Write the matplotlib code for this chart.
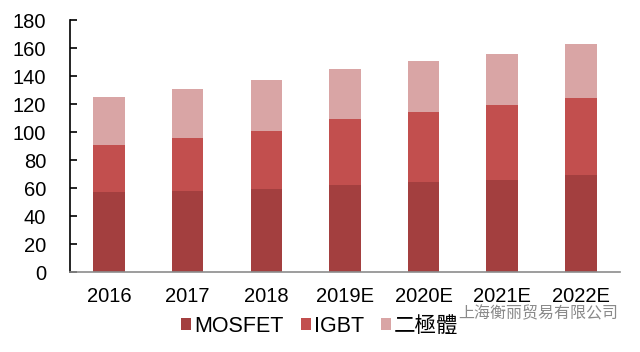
import matplotlib

matplotlib.use("Agg")
import matplotlib.pyplot as plt
import numpy as np
from matplotlib.patches import Patch

plt.rcParams["font.family"] = ["Liberation Sans", "Noto Sans CJK SC", "DejaVu Sans"]

years = ["2016", "2017", "2018", "2019E", "2020E", "2021E", "2022E"]
mosfet = [57, 58, 59, 62, 64, 66, 69]
igbt = [34, 38, 42, 47, 50, 53, 55]
diode = [34, 35, 36, 36, 37, 37, 39]
series_names = ["MOSFET", "IGBT", "二極體"]
colours = ["#A33F3F", "#C24F4E", "#D9A5A5"]


def main() -> None:
    fig = plt.figure(figsize=(6.4, 3.52), dpi=100)
    ax = fig.add_axes([0.109, 0.227, 0.86, 0.716])

    x = np.arange(len(years))
    bottom = np.zeros(len(years))
    for values, colour in zip([mosfet, igbt, diode], colours):
        ax.bar(x, values, width=0.4, bottom=bottom, color=colour, zorder=2)
        bottom += np.array(values)

    ax.set_xlim(-0.5, len(years) - 0.5)
    ax.set_ylim(0, 180)
    ax.set_yticks(range(0, 181, 20))
    ax.set_xticks(x)
    ax.set_xticklabels(years)

    for side in ("top", "right"):
        ax.spines[side].set_visible(False)
    ax.spines["left"].set_color("black")
    ax.spines["left"].set_linewidth(1.2)
    ax.spines["bottom"].set_color("#8c8c8c")
    ax.spines["bottom"].set_linewidth(1.2)

    ax.tick_params(axis="y", direction="in", length=5, width=1.2,
                   labelsize=14.5, pad=17, colors="black")
    ax.tick_params(axis="x", length=0, labelsize=14.5, pad=11)

    handles = [Patch(facecolor=c, label=n) for n, c in zip(series_names, colours)]
    fig.legend(
        handles=handles,
        loc="center",
        bbox_to_anchor=(0.5, 0.073),
        ncol=3,
        frameon=False,
        fontsize=15.5,
        handlelength=0.45,
        handleheight=0.45,
        handletextpad=0.15,
        columnspacing=0.8,
    )

    fig.text(0.966, 0.108, "上海衡丽贸易有限公司", ha="right", va="center",
             fontsize=11.5, color="#8a8a8a", family=["Noto Sans CJK SC", "DejaVu Sans"])

    fig.savefig("out.png", dpi=100)
    plt.close(fig)


if __name__ == "__main__":
    main()
